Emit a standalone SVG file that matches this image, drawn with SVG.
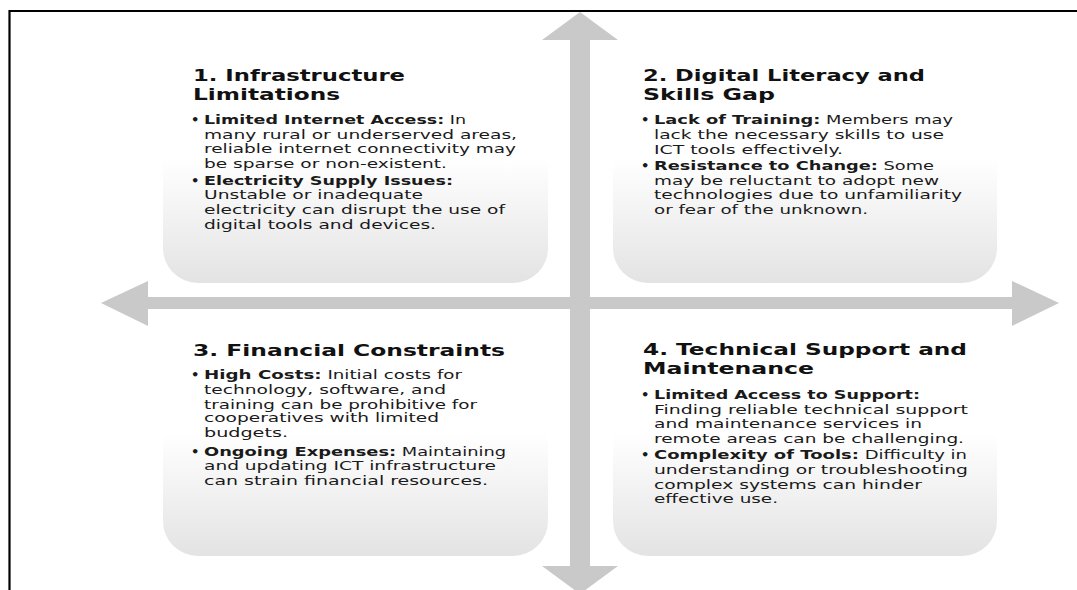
<svg xmlns="http://www.w3.org/2000/svg" width="1077" height="590" viewBox="0 0 1077 590">
<defs>
<linearGradient id="boxGrad" x1="0" y1="0" x2="0" y2="1">
<stop offset="0" stop-color="#ffffff"/>
<stop offset="0.48" stop-color="#ffffff"/>
<stop offset="1" stop-color="#e3e3e3"/>
</linearGradient>
<style>
.box{fill:url(#boxGrad);stroke:none}
.frame{stroke:#000;stroke-width:2.2;fill:none}
.arrow{fill:#c9c9c9;stroke:none}
.t{font-family:"DejaVu Sans","Liberation Sans",sans-serif;font-size:16.5px;font-weight:bold;fill:#111}
.b{font-family:"DejaVu Sans","Liberation Sans",sans-serif;font-size:13px;fill:#1a1a1a}
.k{font-weight:bold}
.bul{font-family:"DejaVu Sans","Liberation Sans",sans-serif;font-size:13px;font-weight:bold;fill:#1a1a1a}
</style>
</defs>
<rect x="0" y="0" width="1077" height="590" fill="#ffffff"/>
<path class="frame" d="M9.5,590 V11 H1077"/>

<g id="box1">
<rect class="box" x="163" y="45" width="385" height="238" rx="35" ry="35"/>
<text class="t" x="193" y="81" textLength="212" lengthAdjust="spacingAndGlyphs">1. Infrastructure</text>
<text class="t" x="193" y="100" textLength="147" lengthAdjust="spacingAndGlyphs">Limitations</text>
<text class="bul" x="191" y="124">•</text>
<text class="b" x="204" y="124" textLength="262" lengthAdjust="spacingAndGlyphs"><tspan class="k">Limited Internet Access:</tspan> In</text>
<text class="b" x="204" y="139" textLength="313" lengthAdjust="spacingAndGlyphs">many rural or underserved areas,</text>
<text class="b" x="204" y="153" textLength="312" lengthAdjust="spacingAndGlyphs">reliable internet connectivity may</text>
<text class="b" x="204" y="168" textLength="243" lengthAdjust="spacingAndGlyphs">be sparse or non-existent.</text>
<text class="bul" x="191" y="185">•</text>
<text class="b" x="204" y="185" textLength="249" lengthAdjust="spacingAndGlyphs"><tspan class="k">Electricity Supply Issues:</tspan></text>
<text class="b" x="204" y="199" textLength="219" lengthAdjust="spacingAndGlyphs">Unstable or inadequate</text>
<text class="b" x="204" y="214" textLength="301" lengthAdjust="spacingAndGlyphs">electricity can disrupt the use of</text>
<text class="b" x="204" y="229" textLength="232" lengthAdjust="spacingAndGlyphs">digital tools and devices.</text>
</g>

<g id="box2">
<rect class="box" x="613" y="45" width="384" height="238" rx="35" ry="35"/>
<text class="t" x="643" y="81" textLength="282" lengthAdjust="spacingAndGlyphs">2. Digital Literacy and</text>
<text class="t" x="643" y="100" textLength="132" lengthAdjust="spacingAndGlyphs">Skills Gap</text>
<text class="bul" x="641" y="124">•</text>
<text class="b" x="654" y="124" textLength="299" lengthAdjust="spacingAndGlyphs"><tspan class="k">Lack of Training:</tspan> Members may</text>
<text class="b" x="654" y="139" textLength="290" lengthAdjust="spacingAndGlyphs">lack the necessary skills to use</text>
<text class="b" x="654" y="154" textLength="189" lengthAdjust="spacingAndGlyphs">ICT tools effectively.</text>
<text class="bul" x="641" y="170">•</text>
<text class="b" x="654" y="170" textLength="280" lengthAdjust="spacingAndGlyphs"><tspan class="k">Resistance to Change:</tspan> Some</text>
<text class="b" x="654" y="185" textLength="285" lengthAdjust="spacingAndGlyphs">may be reluctant to adopt new</text>
<text class="b" x="654" y="199" textLength="308" lengthAdjust="spacingAndGlyphs">technologies due to unfamiliarity</text>
<text class="b" x="654" y="214" textLength="214" lengthAdjust="spacingAndGlyphs">or fear of the unknown.</text>
</g>

<g id="box3">
<rect class="box" x="163" y="320" width="385" height="236" rx="35" ry="35"/>
<text class="t" x="193" y="356" textLength="312" lengthAdjust="spacingAndGlyphs">3. Financial Constraints</text>
<text class="bul" x="191" y="379">•</text>
<text class="b" x="204" y="379" textLength="258" lengthAdjust="spacingAndGlyphs"><tspan class="k">High Costs:</tspan> Initial costs for</text>
<text class="b" x="204" y="394" textLength="242" lengthAdjust="spacingAndGlyphs">technology, software, and</text>
<text class="b" x="204" y="409" textLength="273" lengthAdjust="spacingAndGlyphs">training can be prohibitive for</text>
<text class="b" x="204" y="422" textLength="235" lengthAdjust="spacingAndGlyphs">cooperatives with limited</text>
<text class="b" x="204" y="437" textLength="84" lengthAdjust="spacingAndGlyphs">budgets.</text>
<text class="bul" x="191" y="456">•</text>
<text class="b" x="204" y="456" textLength="302" lengthAdjust="spacingAndGlyphs"><tspan class="k">Ongoing Expenses:</tspan> Maintaining</text>
<text class="b" x="204" y="470" textLength="292" lengthAdjust="spacingAndGlyphs">and updating ICT infrastructure</text>
<text class="b" x="204" y="485" textLength="284" lengthAdjust="spacingAndGlyphs">can strain financial resources.</text>
</g>

<g id="box4">
<rect class="box" x="613" y="320" width="384" height="236" rx="35" ry="35"/>
<text class="t" x="643" y="355" textLength="324" lengthAdjust="spacingAndGlyphs">4. Technical Support and</text>
<text class="t" x="643" y="374" textLength="171" lengthAdjust="spacingAndGlyphs">Maintenance</text>
<text class="bul" x="641" y="399">•</text>
<text class="b" x="654" y="399" textLength="266" lengthAdjust="spacingAndGlyphs"><tspan class="k">Limited Access to Support:</tspan></text>
<text class="b" x="654" y="414" textLength="314" lengthAdjust="spacingAndGlyphs">Finding reliable technical support</text>
<text class="b" x="654" y="428" textLength="268" lengthAdjust="spacingAndGlyphs">and maintenance services in</text>
<text class="b" x="654" y="443" textLength="310" lengthAdjust="spacingAndGlyphs">remote areas can be challenging.</text>
<text class="bul" x="641" y="459">•</text>
<text class="b" x="654" y="459" textLength="313" lengthAdjust="spacingAndGlyphs"><tspan class="k">Complexity of Tools:</tspan> Difficulty in</text>
<text class="b" x="654" y="474" textLength="314" lengthAdjust="spacingAndGlyphs">understanding or troubleshooting</text>
<text class="b" x="654" y="489" textLength="268" lengthAdjust="spacingAndGlyphs">complex systems can hinder</text>
<text class="b" x="654" y="503" textLength="124" lengthAdjust="spacingAndGlyphs">effective use.</text>
</g>

<g id="connectors">
<polygon class="arrow" points="580,12 618,40 590,40 590,297 1012,297 1012,281 1059,303 1012,326 1012,309 590,309 590,566 618,566 580,594 542,566 570,566 570,309 148,309 148,326 101,303 148,281 148,297 570,297 570,40 542,40"/>
</g>
</svg>
